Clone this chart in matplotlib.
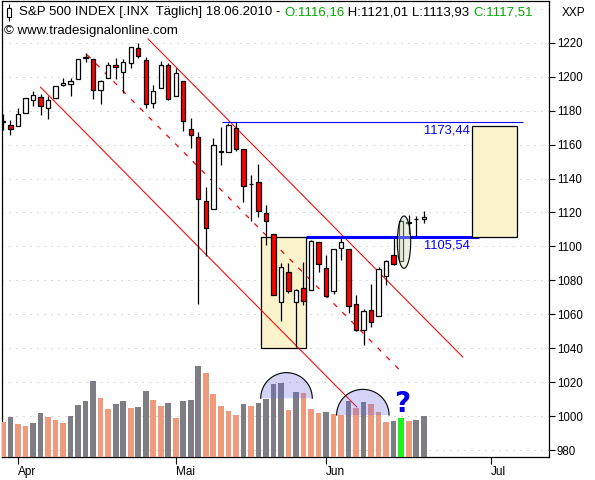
import numpy as np
import pandas as pd
import matplotlib
matplotlib.use("Agg")
import matplotlib.pyplot as plt
from matplotlib.patches import Rectangle, Ellipse, Polygon

plt.rcParams["font.family"] = ["Liberation Sans", "DejaVu Sans"]

# S&P 500 daily candles 30.03.2010 - 18.06.2010
opens = [1173.75, 1171.75, 1171.23, 1178.71, 1186.01, 1188.23, 1181.75, 1187.47, 1194.94, 1195.94,
         1198.69, 1210.77, 1210.17, 1192.06, 1199.04, 1207.16, 1202.52, 1207.87, 1217.07, 1209.92,
         1184.59, 1193.30, 1206.77, 1188.58, 1197.50, 1169.24, 1164.38, 1127.04, 1122.27, 1156.39,
         1155.43, 1170.04, 1157.19, 1136.52, 1138.00, 1119.57, 1107.34, 1067.26, 1084.78, 1067.42,
         1075.51, 1074.27, 1102.59, 1087.30, 1073.89, 1098.82, 1098.43, 1065.84, 1050.81, 1062.75,
         1058.77, 1082.65, 1095.00, 1091.21, 1114.02, 1115.98, 1116.16]
highs = [1177.83, 1174.56, 1181.43, 1187.73, 1191.80, 1189.60, 1188.55, 1194.66, 1199.20, 1199.04,
         1210.65, 1213.92, 1210.17, 1197.87, 1208.58, 1210.99, 1210.27, 1217.28, 1219.80, 1211.38,
         1195.05, 1209.36, 1207.99, 1205.13, 1197.50, 1175.95, 1167.58, 1135.13, 1163.85, 1170.48,
         1172.87, 1173.57, 1157.19, 1141.88, 1148.66, 1124.27, 1107.34, 1090.16, 1089.95, 1074.75,
         1090.75, 1103.52, 1102.59, 1094.77, 1098.56, 1105.67, 1098.43, 1071.36, 1063.15, 1077.74,
         1087.85, 1092.25, 1105.91, 1115.59, 1118.74, 1117.72, 1121.01]
lows = [1168.47, 1165.77, 1170.69, 1178.71, 1182.77, 1177.25, 1175.12, 1187.15, 1194.71, 1188.82,
        1198.69, 1208.50, 1186.77, 1183.68, 1199.04, 1198.85, 1190.19, 1205.10, 1211.07, 1181.62,
        1181.81, 1193.30, 1186.32, 1188.58, 1168.12, 1158.15, 1065.79, 1094.15, 1122.27, 1147.71,
        1155.43, 1156.14, 1126.14, 1114.96, 1117.20, 1100.66, 1071.58, 1055.90, 1072.70, 1040.78,
        1065.59, 1074.27, 1084.78, 1069.89, 1072.03, 1091.81, 1060.50, 1049.86, 1042.17, 1052.25,
        1058.77, 1077.12, 1089.03, 1091.21, 1107.13, 1105.87, 1113.93]
closes = [1173.27, 1169.43, 1178.10, 1187.44, 1189.44, 1182.45, 1186.44, 1194.37, 1196.48, 1197.30,
          1210.65, 1211.67, 1192.13, 1197.52, 1207.17, 1205.94, 1208.67, 1217.28, 1212.05, 1183.71,
          1191.36, 1206.78, 1186.69, 1202.26, 1173.60, 1165.87, 1128.15, 1110.88, 1159.73, 1155.79,
          1171.67, 1157.44, 1135.68, 1136.94, 1120.80, 1115.05, 1071.59, 1087.69, 1073.65, 1074.03,
          1067.95, 1103.06, 1089.41, 1070.71, 1098.38, 1102.83, 1064.88, 1050.47, 1062.00, 1055.69,
          1086.84, 1091.60, 1089.63, 1115.23, 1114.61, 1116.04, 1117.51]
# volume, billions of shares
volumes = [4.03, 4.61, 3.79, 3.56, 3.91, 5.08, 4.61, 4.26, 3.91, 4.73,
           6.02, 6.49, 8.84, 6.84, 5.55, 6.14, 6.49, 5.67, 5.79, 7.67,
           6.61, 5.91, 6.26, 4.50, 6.49, 6.61, 10.60, 9.78, 7.31, 5.91,
           5.32, 4.85, 6.14, 5.91, 6.26, 6.73, 8.49, 8.61, 5.44, 7.55,
           7.43, 5.55, 5.08, 5.20, 4.97, 4.85, 6.49, 5.67, 6.37, 6.14,
           5.20, 4.03, 4.14, 4.50, 4.14, 4.26, 4.73]

holidays = ["2010-04-02", "2010-05-31", "2010-07-05"]
calendar = pd.bdate_range("2010-03-30", "2010-07-30", freq="C", holidays=holidays)
dates = calendar[:len(closes)]
month_names = ["Apr", "Mai", "Jun", "Jul"]

# drawn analysis objects (bar index / price)
resistance = 1173.44
breakout = 1105.54
box_low = 1040.0
target = breakout + (breakout - box_low)
channel_upper = ([19.3, 61.2], [1222.3, 1034.8])
channel_mid = ([11.2, 53.2], [1212.9, 1025.4])
channel_lower = ([5.0, 47.1], [1193.8, 1005.4])
highlight = 53  # 15.06.2010

RED = "#FF0000"
BLUE = "#0000FF"
GREEN = "#00A800"
GRAY_VOL = "#7E7D84"
ORANGE_VOL = "#EE9A7C"
BOX = "#FBF3CC"

W, H = 595, 480
fig = plt.figure(figsize=(W / 100, H / 100), dpi=100)
L, R, T, B = 2, 549.3, 1, 457
ax = fig.add_axes([L / W, 1 - B / H, (R - L) / W, (B - T) / H])
ax2 = ax.twinx()

def axx(px):
    return (px - L) / (R - L)

def axy(py):
    return (B - py) / (B - T)

x = np.arange(len(closes))
o = np.array(opens); c = np.array(closes)

# gridlines
for lev in range(980, 1260, 20):
    ax.axhline(lev, color="#B8B8B8", lw=0.72, ls=(0, (1, 6)), zorder=0.5)

# first box (flag range) behind candles
ax.add_patch(Rectangle((34.3, box_low), 6.0, breakout - box_low, facecolor=BOX,
                       edgecolor="black", lw=0.9, zorder=1))

# channel
ax.plot(*channel_upper, color=RED, lw=0.75, zorder=2)
ax.plot(*channel_lower, color=RED, lw=0.75, zorder=2)
ax.plot(*channel_mid, color=RED, lw=0.9, ls=(0, (4, 6)), zorder=2)

# candles
ax.vlines(x, lows, highs, color="black", lw=0.9, zorder=3)
body_col = np.where(c < o, RED, "white")
ax.bar(x, np.maximum(np.abs(c - o), 0.05), bottom=np.minimum(o, c), width=0.58,
       color=body_col, edgecolor="black", lw=0.9, zorder=3.5)

# horizontal levels
ax.hlines(resistance, 29.2, 69.2, color=BLUE, lw=0.8, zorder=4)
ax.hlines(breakout, 40.3, 63.4, color=BLUE, lw=2.2, zorder=4)
lab = lambda v: f"{v:.2f}".replace(".", ",")
ax.text(62.2, resistance - 1.5, lab(resistance), color=BLUE, fontsize=9.3,
        ha="right", va="top", zorder=5)
ax.text(62.2, breakout - 1.5, lab(breakout), color=BLUE, fontsize=9.3,
        ha="right", va="top", zorder=5)

# target box
ax.add_patch(Rectangle((62.4, breakout), 6.0, target - breakout, facecolor=BOX,
                       edgecolor="black", lw=0.9, zorder=4.5))

# ellipse round the breakout candle
ax.add_patch(Ellipse((53.38, 1102.5), 1.78, 30.8, facecolor="#C8DCB8", alpha=0.4,
                     edgecolor="none", zorder=5))
ax.add_patch(Ellipse((53.38, 1102.5), 1.78, 30.8, facecolor="none",
                     edgecolor="black", lw=0.8, zorder=5))

# volume bars
vol_colors = [ORANGE_VOL]
for i in range(1, len(volumes)):
    vol_colors.append(GRAY_VOL if volumes[i] > volumes[i - 1] else ORANGE_VOL)
vol_colors[highlight] = "#22EE22"
ax2.bar(x, volumes, width=0.76, color=vol_colors, lw=0, zorder=1)

# volume bubbles
for cx, cy, rx, ry in [(37.74, 1010.5, 3.43, 15.1), (47.9, 1000.6, 3.49, 15.15)]:
    th = np.linspace(0, np.pi, 80)
    xs = cx + rx * np.cos(th)
    ys = cy + ry * np.sin(th)
    ax2.add_patch(Polygon(np.column_stack([xs, ys]), closed=True, facecolor="#6262DC",
                          alpha=0.28, edgecolor="none", transform=ax.transData, zorder=2))
    ax2.plot(xs, ys, color="black", lw=0.8, transform=ax.transData, zorder=3)
ax2.text(53.1, 1007, "?", color="#0000E6", fontsize=20, fontweight="bold",
         ha="center", va="center", transform=ax.transData, zorder=4,
         family="DejaVu Sans")

ax.set_xlim(-0.13, 72.72)
ax.set_ylim(975.9, 1244.6)
ax2.set_ylim(0, 53.07)
ax2.set_yticks([])
for s in ax2.spines.values():
    s.set_visible(False)

# axes styling
for s in ax.spines.values():
    s.set_linewidth(0.9)
ax.yaxis.tick_right()
ax.set_yticks(range(980, 1240, 20))
ax.tick_params(axis="y", direction="out", length=4, width=0.8, pad=1.5, labelsize=8.3)
month_starts = [int(np.where(calendar.month == m)[0][0]) for m in (4, 5, 6, 7)]
ax.set_xticks(month_starts, month_names)
ax.tick_params(axis="x", direction="out", length=5, width=0.8, pad=1.5, labelsize=8.5)
for t in ax.get_xticklabels():
    t.set_ha("left")

# header
ax.add_patch(Rectangle((axx(3), axy(22)), axx(532) - axx(3), axy(2) - axy(22),
                       transform=ax.transAxes, facecolor="white", edgecolor="none", zorder=1))
ax.vlines(axx(8.5), axy(21), axy(4), transform=ax.transAxes, color="black", lw=0.8, zorder=6)
ax.add_patch(Rectangle((axx(6.5), axy(17)), axx(10.5) - axx(6.5), axy(8) - axy(17),
                       transform=ax.transAxes, facecolor="white", edgecolor="black",
                       lw=0.8, zorder=7))
parts = [(f"S&P 500 INDEX [.INX  Täglich] {dates[-1].strftime('%d.%m.%Y')} - ", "black"),
         (f"O:{lab(opens[-1])}", GREEN),
         (f" H:{lab(highs[-1])} L:{lab(lows[-1])} ", "black"),
         (f"C:{lab(closes[-1])}", GREEN)]
prev = ax.text(axx(19), axy(12.5), parts[0][0], color=parts[0][1], fontsize=9.5,
               transform=ax.transAxes, va="center", zorder=8)
for txt, col in parts[1:]:
    prev = ax.annotate(txt, xy=(1, 0.5), xycoords=prev, color=col, fontsize=9.5,
                       va="center", zorder=8)
ax.text(axx(4), axy(31), "© www.tradesignalonline.com", fontsize=9.5,
        transform=ax.transAxes, va="center", zorder=8)
fig.text(562 / W, 1 - 12.5 / H, "XXP", fontsize=8.5, va="center")

fig.savefig("out.png", dpi=100)
